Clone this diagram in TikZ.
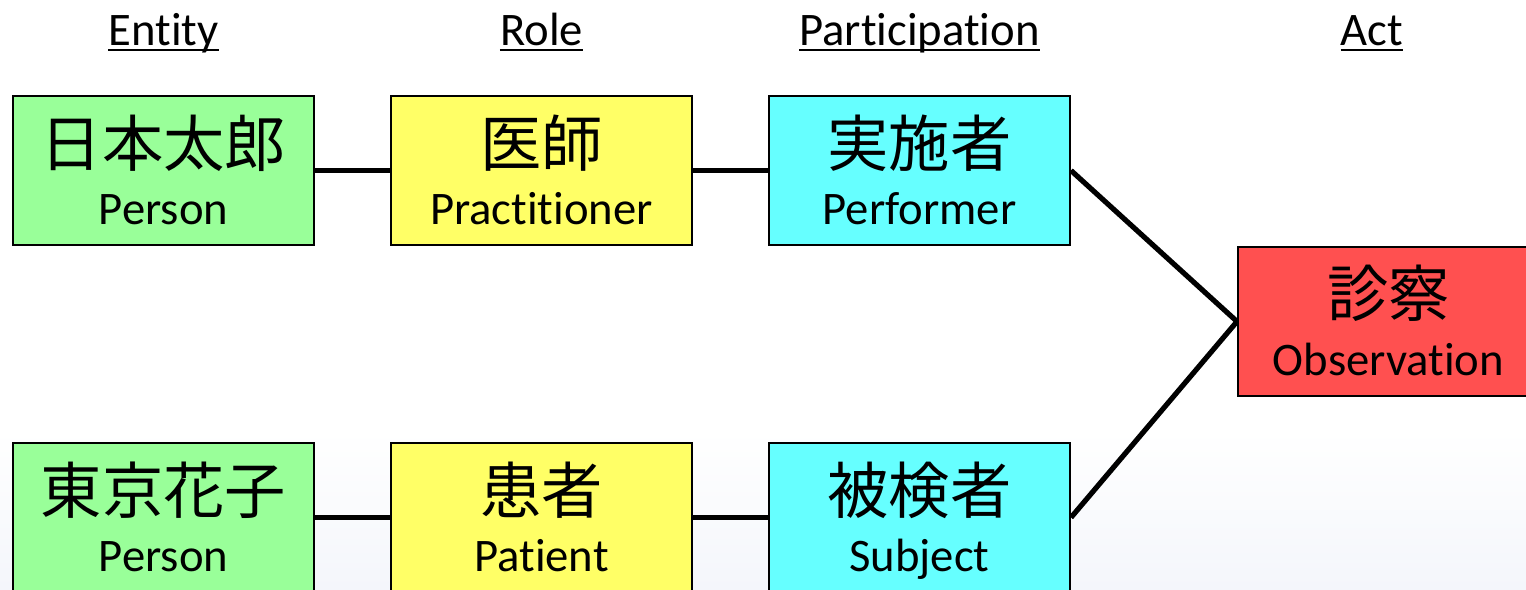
\documentclass[tikz,border=0pt]{standalone}
\usepackage{fontspec}
\setmainfont[RawFeature={-liga;-clig;-calt;-dlig}]{Carlito}
\newfontfamily\cjk{Noto Sans CJK JP}
\definecolor{entgreen}{HTML}{99FF99}
\definecolor{roleyellow}{HTML}{FFFF66}
\definecolor{partcyan}{HTML}{66FFFF}
\definecolor{actred}{HTML}{FF5050}
\definecolor{bgfaint}{HTML}{F4F6FB}
\begin{document}
\begin{tikzpicture}[x=0.75pt,y=-0.75pt,
  box/.style={draw=black, line width=1.5pt, minimum width=225.75pt, minimum height=111.75pt, inner sep=0pt, anchor=center},
  jp/.style={font=\cjk\fontsize{46}{46}\selectfont, inner sep=0pt, anchor=base},
  en/.style={font=\fontsize{35}{35}\selectfont, inner sep=0pt, anchor=base},
  head/.style={font=\fontsize{35}{35}\selectfont, inner sep=0pt, anchor=base},
  link/.style={line width=3.9pt},
  uline/.style={line width=1.4pt}]
\useasboundingbox (0,0) rectangle (1526,589);
\clip (0,0) rectangle (1526,589);
\fill[white] (0,0) rectangle (1526,589);
\shade[top color=white, bottom color=bgfaint] (0,430) rectangle (1526,589);

% headers
\node[head] (hE) at (163.5,45) {Entity};
\node[head] (hR) at (541.5,45) {Role};
\node[head] (hP) at (919.5,45) {Participation};
\node[head] (hA) at (1372,45) {Act};
\foreach \h in {hE,hR,hP,hA}
  \draw[uline] ([yshift=-4pt]\h.base west) -- ([yshift=-4pt]\h.base east);

% boxes, top row
\node[box, fill=entgreen]   (e1) at (163.5,170.5) {};
\node[box, fill=roleyellow] (r1) at (541.5,170.5) {};
\node[box, fill=partcyan]   (p1) at (919.5,170.5) {};
% bottom row
\node[box, fill=entgreen]   (e2) at (163.5,517.5) {};
\node[box, fill=roleyellow] (r2) at (541.5,517.5) {};
\node[box, fill=partcyan]   (p2) at (919.5,517.5) {};
% act
\node[box, fill=actred]     (a1) at (1388.5,321.5) {};

% texts
\node[jp] (e1j) at (163.5,166) {日本太郎};
\node[en] (e1e) at (163.5,224) {Person};
\node[jp] (r1j) at (541.5,166) {医師};
\node[en] (r1e) at (541.5,224) {Practitioner};
\node[jp] (p1j) at (919.5,166) {実施者};
\node[en] (p1e) at (919.5,224) {Performer};

\node[jp] (e2j) at (163.5,513) {東京花子};
\node[en] (e2e) at (163.5,571) {Person};
\node[jp] (r2j) at (541.5,513) {患者};
\node[en] (r2e) at (541.5,571) {Patient};
\node[jp] (p2j) at (919.5,513) {被検者};
\node[en] (p2e) at (919.5,571) {Subject};

\node[jp] (a1j) at (1388.5,316) {診察};
\node[en] (a1e) at (1388.5,375) {Observation};

% connectors
\draw[link] (e1.east) -- (r1.west);
\draw[link] (r1.east) -- (p1.west);
\draw[link] (e2.east) -- (r2.west);
\draw[link] (r2.east) -- (p2.west);
\draw[link] (p1.east) -- (a1.west);
\draw[link] (p2.east) -- (a1.west);
\end{tikzpicture}
\end{document}
